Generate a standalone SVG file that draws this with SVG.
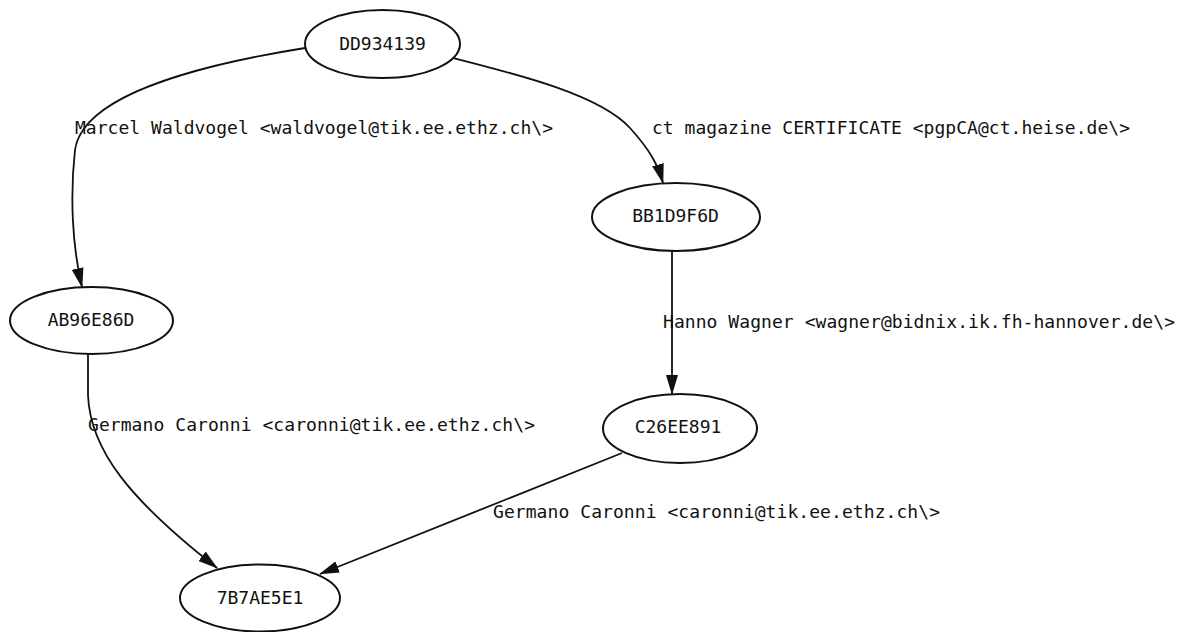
<svg xmlns="http://www.w3.org/2000/svg" width="1178" height="632" viewBox="0 0 1178 632">
<style>
.node ellipse{fill:#fff;stroke:#111;stroke-width:2}
.node text{font-family:"DejaVu Sans Mono","Liberation Mono",monospace;font-size:18px;fill:#111;text-anchor:middle}
.edge path{fill:none;stroke:#111;stroke-width:1.8}
.lbl{font-family:"DejaVu Sans Mono","Liberation Mono",monospace;font-size:18px;fill:#111}
</style>
<defs>
<marker id="arr" markerUnits="userSpaceOnUse" markerWidth="20" markerHeight="12" refX="19" refY="6" orient="auto">
<path d="M0,0 L20,6 L0,12 Z" fill="#111"/>
</marker>
</defs>
<rect width="1178" height="632" fill="#fff"/>
<g id="connectors" class="edge">
<path d="M305,48 C180,68 82,100 75,150 C70,195 72,245 82,287" marker-end="url(#arr)"/>
<path d="M453,58 C520,75 600,95 630,128 C650,150 658,165 663,183" marker-end="url(#arr)"/>
<path d="M672,251 L672,394" marker-end="url(#arr)"/>
<path d="M88,354 L88,395 C90,450 130,500 217,568" marker-end="url(#arr)"/>
<path d="M622,453 L320,574" marker-end="url(#arr)"/>
</g>
<g id="edge-labels">
<text class="lbl" x="75" y="134" textLength="478" lengthAdjust="spacing">Marcel Waldvogel &lt;waldvogel@tik.ee.ethz.ch\&gt;</text>
<text class="lbl" x="652" y="134" textLength="478" lengthAdjust="spacing">ct magazine CERTIFICATE &lt;pgpCA@ct.heise.de\&gt;</text>
<text class="lbl" x="663" y="328" textLength="512" lengthAdjust="spacing">Hanno Wagner &lt;wagner@bidnix.ik.fh-hannover.de\&gt;</text>
<text class="lbl" x="88" y="431" textLength="447" lengthAdjust="spacing">Germano Caronni &lt;caronni@tik.ee.ethz.ch\&gt;</text>
<text class="lbl" x="493" y="518" textLength="447" lengthAdjust="spacing">Germano Caronni &lt;caronni@tik.ee.ethz.ch\&gt;</text>
</g>
<g id="DD934139" class="node">
<ellipse cx="382.5" cy="44" rx="77.5" ry="34"/>
<text x="382.5" y="50">DD934139</text>
</g>
<g id="BB1D9F6D" class="node">
<ellipse cx="676" cy="217" rx="84" ry="34"/>
<text x="675.5" y="222">BB1D9F6D</text>
</g>
<g id="AB96E86D" class="node">
<ellipse cx="91.5" cy="320.5" rx="81.5" ry="33.5"/>
<text x="91" y="326">AB96E86D</text>
</g>
<g id="C26EE891" class="node">
<ellipse cx="680" cy="428.5" rx="77" ry="34.5"/>
<text x="678" y="433">C26EE891</text>
</g>
<g id="7B7AE5E1" class="node">
<ellipse cx="260" cy="598" rx="80" ry="33.5"/>
<text x="260" y="604">7B7AE5E1</text>
</g>
</svg>
